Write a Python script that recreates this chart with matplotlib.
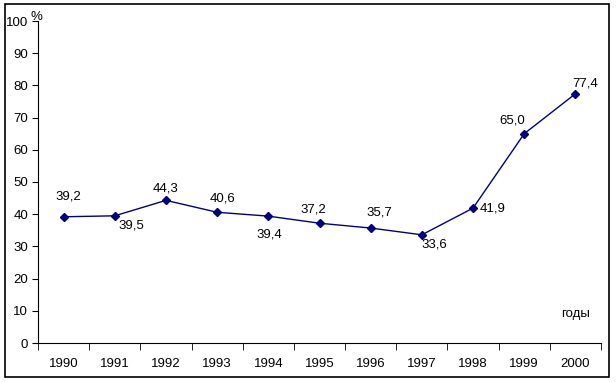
import matplotlib
matplotlib.use("Agg")
import matplotlib.pyplot as plt
from matplotlib.patches import Rectangle

years = ["1990", "1991", "1992", "1993", "1994", "1995", "1996", "1997", "1998", "1999", "2000"]
values = [39.2, 39.5, 44.3, 40.6, 39.4, 37.2, 35.7, 33.6, 41.9, 65.0, 77.4]
labels = ["39,2", "39,5", "44,3", "40,6", "39,4", "37,2", "35,7", "33,6", "41,9", "65,0", "77,4"]
# label offsets in pixels (dx, dy)
offsets = [(5, 20), (17, -10), (0, 12), (5, 14), (1, -18), (-6, 14), (9, 16), (12, -10), (20, 0), (-12, 13), (10, 10)]

plt.rcParams['font.family'] = ['Liberation Sans', 'DejaVu Sans']
fig = plt.figure(figsize=(6.16, 3.82), dpi=100)
fig.patches.append(Rectangle((5/616, 1-377/382), 604/616, 373/382, transform=fig.transFigure,
                             fill=False, edgecolor='black', linewidth=1.2))
ax = fig.add_axes([38/616, 1-343/382, 563/616, 322/382])
x = list(range(len(years)))
ax.plot(x, values, color='#000080', linewidth=1, marker='D', markersize=4.5)
for xi, v, lab, (dx, dy) in zip(x, values, labels, offsets):
    ax.annotate(lab, (xi, v), xytext=(dx * 0.72, dy * 0.72), textcoords='offset points',
                ha='center', va='center', fontsize=9.5)
ax.set_xlim(-0.5, len(years) - 0.5)
ax.set_ylim(0, 100)
ax.set_yticks(range(0, 101, 10))
ax.set_xticks(x)
ax.set_xticklabels(years)
ax.set_xticks([i - 0.5 for i in range(len(years) + 1)], minor=True)
ax.tick_params(axis='x', which='major', length=0, pad=11, labelsize=9.5)
ax.tick_params(axis='x', which='minor', length=5, direction='out')
ax.tick_params(axis='y', length=4, direction='out', labelsize=9.5, pad=3)
for s in ['top', 'right']:
    ax.spines[s].set_visible(False)
ax.annotate('%', (-0.5, 100), xytext=(-1, 3), textcoords='offset points', fontsize=9.5,
            ha='center', va='center')
ax.text(10, 9, 'годы', fontsize=9.5, ha='center', va='center')
fig.savefig('out.png', dpi=100)
